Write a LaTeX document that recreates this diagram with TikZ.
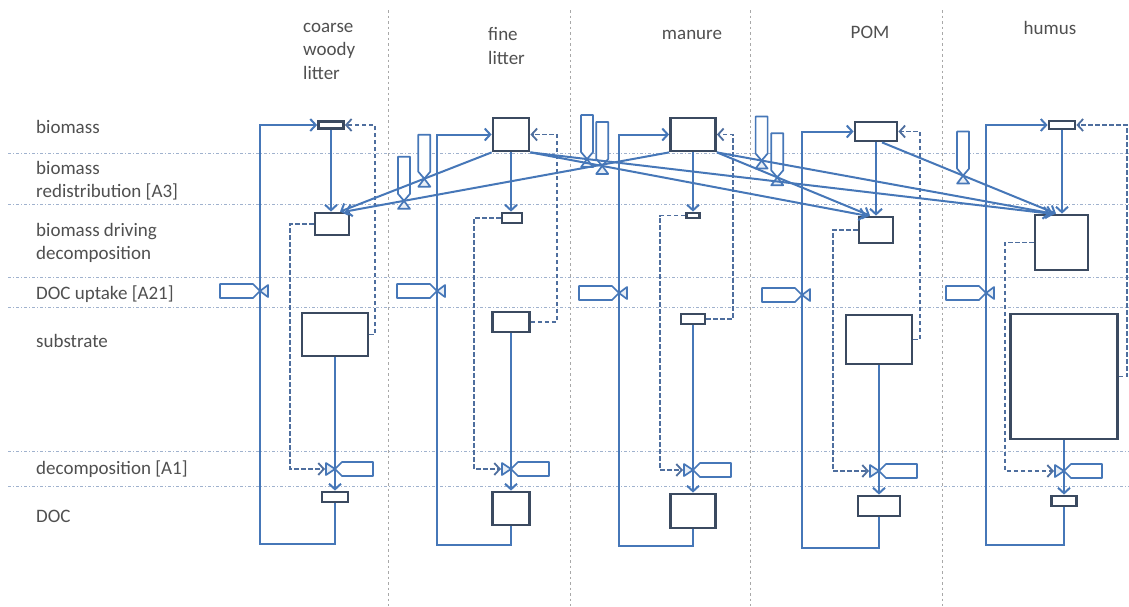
\documentclass[tikz,border=0pt]{standalone}
\usepackage{fontspec}
\setmainfont{Carlito}
\usetikzlibrary{arrows.meta,calc}
\definecolor{stockc}{HTML}{3B4A60}
\definecolor{flowc}{HTML}{4677B8}
\definecolor{dashc}{HTML}{4E6E9E}
\definecolor{gridhc}{HTML}{A0B2CE}
\definecolor{gridvc}{HTML}{A8A8A8}
\definecolor{txtc}{HTML}{505050}
\newcommand\lblfont{\fontsize{19}{23.5}\selectfont}
\begin{document}
\begin{tikzpicture}[x=1pt,y=-1pt,
  stock/.style={draw=stockc,line width=2.8pt,fill=white,inner sep=0pt,shape=rectangle},
  flow/.style={draw=flowc,line width=2pt},
  flowar/.style={flow,-{Straight Barb[length=5.5pt,width=12pt]}},
  infl/.style={draw=dashc,line width=1.8pt,dash pattern=on 4.5pt off 2.5pt},
  inflar/.style={infl,-{Straight Barb[length=5.5pt,width=12pt]}},
  tagst/.style={draw=flowc,line width=1.7pt,fill=white,line join=round},
  valvest/.style={draw=flowc,line width=1.7pt,fill=flowc!12,line join=round},
  gridh/.style={draw=gridhc,line width=1pt,dash pattern=on 3pt off 2pt on 1pt off 2pt},
  gridv/.style={draw=gridvc,line width=1pt,dash pattern=on 2.5pt off 3pt},
  lbl/.style={text=txtc,font=\lblfont,inner sep=0pt,align=left},
  pics/uptakevalve/.style={code={
    \draw[tagst] (0,0) -- (-7,-7) -- (-40,-7) -- (-40,7) -- (-7,7) -- cycle;
    \draw[valvest] (0,0) -- (8,-6) -- (8,6) -- cycle;}},
  pics/decvalve/.style={code={
    \draw[tagst] (0,0) -- (7,-7) -- (38,-7) -- (38,7) -- (7,7) -- cycle;
    \draw[valvest] (0,0) -- (-9,-6) -- (-9,6) -- cycle;}},
  pics/redvalve/.style={code={
    \draw[tagst] (0,0) -- (-6,-7) -- (-6,-44) -- (6,-44) -- (6,-7) -- cycle;
    \draw[valvest] (0,0) -- (-6,8) -- (6,8) -- cycle;}}
]
\useasboundingbox (0,0) rectangle (1129,606);
\fill[white] (0,0) rectangle (1129,606);

% grid
\foreach \yy in {153,204,277,307,451,486} \draw[gridh] (8,\yy) -- (1129,\yy);
\foreach \xx in {388,570,750,942} \draw[gridv] (\xx,10) -- (\xx,606);

% headers
\node[lbl,anchor=west] (h1) at (303,51) {coarse\\woody\\litter};
\node[lbl,anchor=west] (h2) at (488,46) {fine\\litter};
\node[lbl] (h3) at (692,35) {manure};
\node[lbl] (h4) at (870,32) {POM};
\node[lbl] (h5) at (1050,28) {humus};

% row labels
\node[lbl,anchor=west] (r1l) at (36,127) {biomass};
\node[lbl,anchor=west] (r2l) at (36,180.5) {biomass\\redistribution [A3]};
\node[lbl,anchor=west] (r3l) at (36,243) {biomass driving\\decomposition};
\node[lbl,anchor=west] (r4l) at (36,294) {DOC uptake [A21]};
\node[lbl,anchor=west] (r5l) at (36,341) {substrate};
\node[lbl,anchor=west] (r6l) at (36,469) {decomposition [A1]};
\node[lbl,anchor=west] (r7l) at (36,516) {DOC};

% ---------- stocks ----------
\node[stock,minimum width=25,minimum height=7]  (bio1) at (331,125) {};
\node[stock,minimum width=34,minimum height=22] (bdd1) at (332,224) {};
\node[stock,minimum width=66,minimum height=43] (sub1) at (335,334.5) {};
\node[stock,minimum width=26,minimum height=10] (doc1) at (335,497) {};

\node[stock,minimum width=36,minimum height=33] (bio2) at (511,134.5) {};
\node[stock,minimum width=20,minimum height=10] (bdd2) at (512,218) {};
\node[stock,minimum width=37,minimum height=20] (sub2) at (511,322) {};
\node[stock,minimum width=37,minimum height=33] (doc2) at (511,508.5) {};

\node[stock,minimum width=45,minimum height=33] (bio3) at (693,134.5) {};
\node[stock,minimum width=13,minimum height=5]  (bdd3) at (693,215.5) {};
\node[stock,minimum width=24,minimum height=10] (sub3) at (693,319) {};
\node[stock,minimum width=45,minimum height=34] (doc3) at (693,511) {};

\node[stock,minimum width=42,minimum height=19] (bio4) at (876,131.5) {};
\node[stock,minimum width=34,minimum height=26] (bdd4) at (876,230) {};
\node[stock,minimum width=66,minimum height=49] (sub4) at (879,339.5) {};
\node[stock,minimum width=42,minimum height=20] (doc4) at (879,506) {};

\node[stock,minimum width=26,minimum height=8]   (bio5) at (1062,125) {};
\node[stock,minimum width=53,minimum height=55]  (bdd5) at (1061.5,242.5) {};
\node[stock,minimum width=107,minimum height=125] (sub5) at (1064,376.5) {};
\node[stock,minimum width=25,minimum height=10]  (doc5) at (1064,501) {};

% ---------- helper coordinates ----------
\coordinate (u1) at (260,291);   \coordinate (lp1) at (260,544);
\coordinate (d1) at (335,469);   \coordinate (rt1) at (375,125);  \coordinate (lf1) at (290,469);
\coordinate (u2) at (437,291);   \coordinate (lp2) at (437,545);
\coordinate (d2) at (511,469);   \coordinate (rt2) at (557,134.5); \coordinate (lf2) at (474,469);
\coordinate (u3) at (619,293);   \coordinate (lp3) at (619,546);
\coordinate (d3) at (693,470);   \coordinate (rt3) at (733,134.5); \coordinate (lf3) at (660,470);
\coordinate (u4) at (802,295);   \coordinate (lp4) at (802,548);
\coordinate (d4) at (879,471);   \coordinate (rt4) at (920,131.5); \coordinate (lf4) at (833,471);
\coordinate (u5) at (986,293);   \coordinate (lp5) at (986,545);
\coordinate (d5) at (1064,471);  \coordinate (rt5) at (1127,125);  \coordinate (lf5) at (1005,471);

% redistribution end points and valves
\coordinate (e1) at ($(bdd1.north)+(8,0)$);
\coordinate (e2) at ($(bdd1.north)+(13,0)$);
\coordinate (e3) at ($(bdd4.north)+(-10,0)$);
\coordinate (e4) at ($(bdd5.north)+(-11.5,0)$);
\coordinate (e5) at ($(bdd4.north)+(-6,0)$);
\coordinate (e6) at ($(bdd5.north)+(-8.5,0)$);
\coordinate (e7) at ($(bdd5.north)+(-5.5,0)$);
\coordinate (s7) at ($(bio4.south)+(6,0)$);
\coordinate (v1) at ($(bio2.south west)!0.444!(e1)$);
\coordinate (v2) at ($(bio3.south west)!0.818!(e2)$);
\coordinate (v3) at ($(bio2.south east)!0.214!(e3)$);
\coordinate (v4) at ($(bio2.south east)!0.109!(e4)$);
\coordinate (v5) at ($(bio3.south east)!0.394!(e5)$);
\coordinate (v6) at ($(bio3.south east)!0.133!(e6)$);
\coordinate (v7) at ($(s7)!0.466!(e7)$);

% valves
\foreach \i in {1,...,5} {\pic at (u\i) {uptakevalve}; \pic at (d\i) {decvalve};}
\foreach \i in {1,...,7} {\pic at (v\i) {redvalve};}

% ---------- flows per column ----------
\foreach \i in {1,...,5} {
  \draw[flowar] (doc\i.south) |- (lp\i) |- (bio\i.west);
  \draw[flowar] (bio\i) -- (bio\i.south |- bdd\i.north);
  \draw[flow] (sub\i) -- (d\i);
  \draw[flowar] (d\i) -- (doc\i);
  \draw[inflar] (bdd\i.west) -| (lf\i) -- ($(d\i)+(-10,0)$);
  \draw[inflar] (sub\i.east) -| (rt\i) -- (rt\i -| bio\i.east);
}

% ---------- biomass redistribution ----------
\draw[flowar] (bio2.south west) -- (e1);
\draw[flowar] (bio3.south west) -- (e2);
\draw[flowar] (bio2.south east) -- (e3);
\draw[flowar] (bio2.south east) -- (e4);
\draw[flowar] (bio3.south east) -- (e5);
\draw[flowar] (bio3.south east) -- (e6);
\draw[flowar] (s7) -- (e7);
\end{tikzpicture}
\end{document}
